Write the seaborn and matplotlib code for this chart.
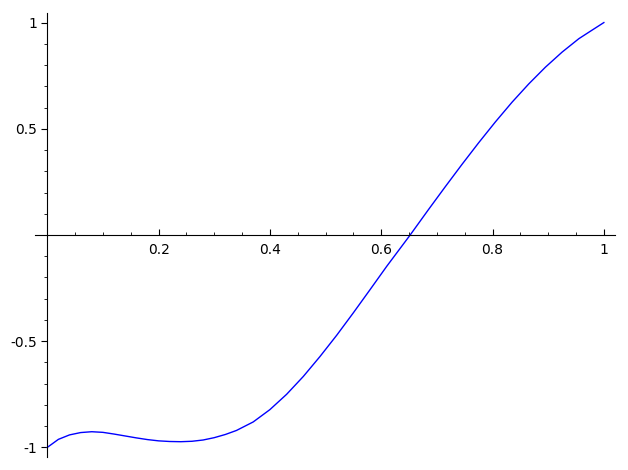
import numpy as np
import pandas as pd
import matplotlib
matplotlib.use("Agg")
import matplotlib.pyplot as plt
import seaborn as sns
from matplotlib.ticker import FixedLocator, MultipleLocator

# values
x_vals = [0.0, 0.02, 0.04, 0.06, 0.08, 0.10, 0.12, 0.14, 0.16, 0.18,
          0.20, 0.22, 0.24, 0.26, 0.28, 0.30, 0.32, 0.34, 0.37, 0.40,
          0.43, 0.46, 0.49, 0.52, 0.55, 0.58, 0.61, 0.64, 0.652, 0.685,
          0.715, 0.745, 0.775, 0.805, 0.835, 0.865, 0.895, 0.925, 0.955, 0.978, 1.0]
y_vals = [-1.0, -0.962, -0.941, -0.930, -0.926, -0.929, -0.937, -0.946, -0.955, -0.963,
          -0.969, -0.972, -0.973, -0.971, -0.965, -0.954, -0.939, -0.920, -0.880, -0.822,
          -0.750, -0.666, -0.572, -0.472, -0.366, -0.257, -0.147, -0.042, 0.0, 0.120,
          0.227, 0.332, 0.434, 0.532, 0.625, 0.711, 0.790, 0.861, 0.924, 0.963, 1.0]

x_ticks = [0.2, 0.4, 0.6, 0.8, 1.0]
x_tick_labels = ["0.2", "0.4", "0.6", "0.8", "1"]
y_ticks = [-1.0, -0.5, 0.5, 1.0]
y_tick_labels = ["-1", "-0.5", "0.5", "1"]

df = pd.DataFrame({"x": x_vals, "y": y_vals})

fig = plt.figure(figsize=(6.28, 4.70), dpi=100)
ax = fig.add_axes([35 / 628, 1 - 457 / 470, 580 / 628, 444 / 470])

sns.lineplot(data=df, x="x", y="y", ax=ax, color="blue", linewidth=1.0, sort=False)

ax.set_xlim(-0.022, 1.02)
ax.set_ylim(-1.045, 1.045)

# sage-like axes through the origin
ax.spines["left"].set_position(("data", 0))
ax.spines["bottom"].set_position(("data", 0))
ax.spines["right"].set_visible(False)
ax.spines["top"].set_visible(False)

ax.xaxis.set_major_locator(FixedLocator(x_ticks))
ax.set_xticklabels(x_tick_labels)
ax.xaxis.set_minor_locator(MultipleLocator(0.05))
ax.yaxis.set_major_locator(FixedLocator(y_ticks))
ax.set_yticklabels(y_tick_labels)
ax.yaxis.set_minor_locator(MultipleLocator(0.1))

ax.tick_params(axis="x", which="major", direction="in", length=4, labelsize=10, pad=6)
ax.tick_params(axis="x", which="minor", direction="in", length=2)
ax.tick_params(axis="y", which="major", direction="out", length=4, labelsize=10)
ax.tick_params(axis="y", which="minor", direction="out", length=2)

ax.set_xlabel("")
ax.set_ylabel("")

fig.savefig("out.png", dpi=100)
